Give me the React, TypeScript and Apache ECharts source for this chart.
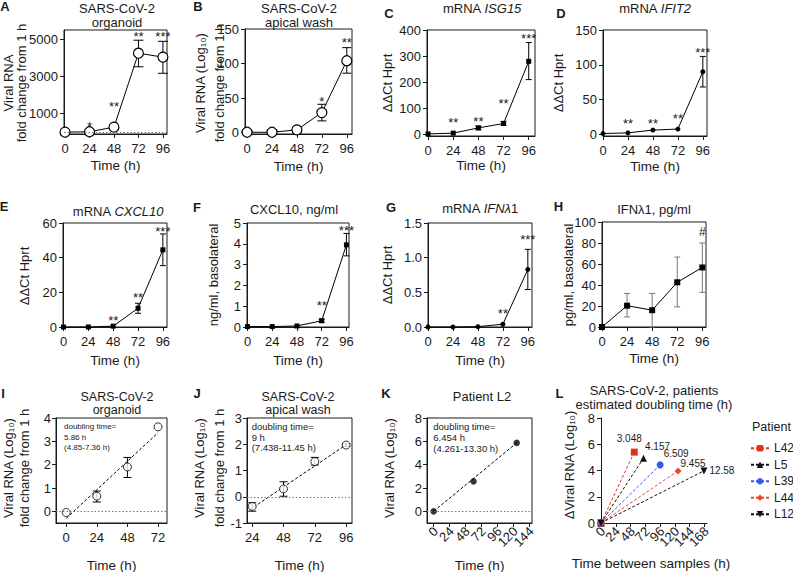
import React, { useEffect, useRef } from "react";
import * as echarts from "echarts";

// ---------------- data ----------------
const hours = [0, 24, 48, 72, 96];

// A  SARS-CoV-2 organoid (fold change from 1 h)
const aMean = [0, 20, 270, 4250, 4040];
const aLow = [0, 20, 240, 3520, 3170];
const aHigh = [0, 20, 300, 4950, 4890];
const aStars: [number, number, string][] = [[24, 280, "*"], [48, 1400, "**"], [72, 5160, "**"], [96, 5160, "***"]];

// B  SARS-CoV-2 apical wash
const bMean = [0.5, 0.5, 4, 29, 104];
const bLow = [0.5, 0.5, 4, 17, 86];
const bHigh = [0.5, 0.5, 4, 41, 123];
const bStars: [number, number, string][] = [[72, 45, "*"], [96, 131, "**"]];

// C  mRNA ISG15
const cMean = [2, 5, 25, 42, 280];
const cLow = [2, 5, 18, 35, 210];
const cHigh = [2, 5, 32, 50, 352];
const cStars: [number, number, string][] = [[24, 44, "**"], [48, 50, "**"], [72, 120, "**"], [96, 369, "***"]];

// D  mRNA IFIT2
const dMean = [1, 2, 6, 7.5, 90];
const dLow = [1, 2, 6, 7.5, 68];
const dHigh = [1, 2, 6, 7.5, 112];
const dStars: [number, number, string][] = [[24, 15, "**"], [48, 15, "**"], [72, 22, "**"], [96, 118, "***"]];

// E  mRNA CXCL10
const eMean = [0, 0, 0.5, 10.8, 44.5];
const eLow = [0, 0, 0.5, 7.9, 35.4];
const eHigh = [0, 0, 0.5, 13.7, 53.7];
const eStars: [number, number, string][] = [[48, 3.6, "**"], [72, 17.1, "**"], [96, 55.2, "***"]];

// F  CXCL10 ng/ml
const fMean = [0.02, 0.02, 0.05, 0.3, 3.95];
const fLow = [0.02, 0.02, 0.05, 0.22, 3.42];
const fHigh = [0.02, 0.02, 0.05, 0.38, 4.5];
const fStars: [number, number, string][] = [[72, 1.04, "**"], [96, 4.65, "***"]];

// G  mRNA IFNλ1
const gMean = [0, 0, 0.005, 0.04, 0.83];
const gLow = [0, 0, 0.005, 0.04, 0.54];
const gHigh = [0, 0, 0.005, 0.04, 1.12];
const gStars: [number, number, string][] = [[72, 0.19, "**"], [96, 1.26, "***"]];

// H  IFNλ1 pg/ml
const hMean = [0, 20.3, 16, 42.6, 56.7];
const hLow = [0, 9.6, 0, 19.2, 33];
const hHigh = [0, 32, 32, 66.6, 80];
const hMarks: [number, number, string][] = [[96, 90.8, "#"]];

// I  organoid log10
const iTime = [0, 24, 48, 72];
const iMean = [-0.05, 0.65, 1.9, 3.62];
const iLow = [-0.05, 0.4, 1.45, 3.62];
const iHigh = [-0.05, 0.87, 2.31, 3.62];
const iFit = [[0, -0.3], [72, 3.37]];

// J  apical wash log10
const jTime = [24, 48, 72, 96];
const jMean = [-0.37, 0.3, 1.34, 1.97];
const jLow = [-0.55, 0.02, 1.21, 1.92];
const jHigh = [-0.23, 0.57, 1.5, 2.02];
const jFit = [[22, -0.5], [96, 1.98]];

// K  Patient L2
const kTime = [0, 60, 125];
const kValue = [0, 2.57, 5.87];
const kFit = [[0, 0], [125, 5.87]];

// L  patients
const lPatients = ["L42", "L5", "L39", "L44", "L12"];
const lHours = [54, 69, 96, 125, 167];
const lDelta = [5.4, 4.94, 4.43, 3.97, 3.97];
const lDoubling = ["3.048", "4.157", "6.509", "9.455", "12.58"];

// tick values
const ticksHour = [0, 24, 48, 72, 96];
const ticksI = [0, 24, 48, 72];
const ticksJ = [24, 48, 72, 96];
const ticksK = [0, 24, 48, 72, 96, 120, 144];
const ticksL = [0, 24, 48, 72, 96, 120, 144, 168];
const yTicksA = [0, 1000, 3000, 5000];
const yLabelsA = [1000, 3000, 5000];
const yTicksB = [0, 50, 100, 150];
const yTicksC = [0, 100, 200, 300, 400];
const yTicksD = [0, 50, 100, 150];
const yTicksE = [0, 20, 40, 60];
const yTicksF = [0, 1, 2, 3, 4, 5];
const yTicksG = [0, 0.5, 1.0, 1.5];
const yTicksH = [0, 20, 40, 60, 80, 100];
const yTicksI = [0, 1, 2, 3, 4];
const yTicksJ = [-1, 0, 1, 2, 3];
const yTicksKL = [0, 2, 4, 6, 8];

// ---------------- styling / layout ----------------
const FONT = '"Liberation Sans", Arial, Helvetica, sans-serif';
const INK = "#1a1a1a";
const lColors = ["#e3311f", "#111111", "#3558f2", "#ee4a2c", "#111111"];
const lSymbols = ["rect", "triangle", "circle", "diamond", "triangle"];
const lRotate = [0, 0, 0, 0, 180];
const lSizes = [7, 7, 7, 7, 7];
const lOffsets = [[-5, -14], [14, -12], [16, -11], [15, -7], [18, 0]];

const grids = [
  { left: 64, top: 30, width: 103, height: 104 },
  { left: 245, top: 29, width: 107, height: 105 },
  { left: 427, top: 30, width: 108, height: 106 },
  { left: 603, top: 30, width: 104, height: 106 },
  { left: 63, top: 223, width: 104, height: 104 },
  { left: 247, top: 223, width: 102, height: 104 },
  { left: 428, top: 223, width: 104, height: 104 },
  { left: 602, top: 222, width: 104, height: 105 },
  { left: 56, top: 418, width: 111, height: 105 },
  { left: 247, top: 418, width: 105, height: 105 },
  { left: 427, top: 418, width: 105, height: 105 },
  { left: 601, top: 418, width: 106, height: 105 },
];
const boxed = [true, true, true, true, true, true, true, true, true, true, true, false];

const plain = (v: number) => String(v);

function mkX(i: number, min: number, max: number, ticks: number[], showLabels = true) {
  return {
    type: "value", gridIndex: i, min, max,
    axisLine: { show: true, onZero: false, lineStyle: { color: INK, width: 1 } },
    axisTick: { show: true, length: 4, customValues: ticks, lineStyle: { color: INK, width: 1 } },
    axisLabel: {
      show: showLabels, customValues: ticks, interval: 0, color: INK, fontSize: 13, fontFamily: FONT, margin: 8,
      showMinLabel: true, showMaxLabel: true, hideOverlap: false, formatter: plain,
    },
    splitLine: { show: false },
  };
}
function mkY(i: number, min: number, max: number, ticks: number[], labels?: number[], fmt?: (v: number) => string, margin = 6) {
  return {
    type: "value", gridIndex: i, min, max,
    axisLine: { show: true, onZero: false, lineStyle: { color: INK, width: 1 } },
    axisTick: { show: true, length: 4, customValues: ticks, lineStyle: { color: INK, width: 1 } },
    axisLabel: {
      customValues: labels || ticks, interval: 0, color: INK, fontSize: 13, fontFamily: FONT, margin,
      formatter: fmt || plain, showMinLabel: true, showMaxLabel: true,
    },
    splitLine: { show: false },
  };
}

// slanted (45°) tick labels placed through the axis scale
function slantedLabels(i: number, ticks: number[], yMin: number) {
  return {
    type: "custom", xAxisIndex: i, yAxisIndex: i, z: 6, silent: true, clip: false,
    data: ticks.map((t) => [t, yMin]),
    renderItem: (p: any, api: any) => {
      const c = api.coord([api.value(0), api.value(1)]);
      return {
        type: "text", x: c[0] + 2, y: c[1] + 6, rotation: Math.PI / 4,
        style: { text: String(ticks[p.dataIndex]), fill: INK, fontSize: 13, fontFamily: FONT, align: "right", verticalAlign: "middle" },
      };
    },
  };
}

function errorBars(i: number, xs: number[], lo: number[], hi: number[], cap: number, color = "#000") {
  return {
    type: "custom", xAxisIndex: i, yAxisIndex: i, z: 2, silent: true,
    data: xs.map((x, k) => [x, lo[k], hi[k]]),
    renderItem: (_p: any, api: any) => {
      const x = api.value(0);
      const l = api.value(1);
      const h = api.value(2);
      if (l === h) return { type: "group", children: [] };
      const a = api.coord([x, l]);
      const b = api.coord([x, h]);
      const w = cap / 2;
      const st = { stroke: color, lineWidth: 1 };
      return {
        type: "group",
        children: [
          { type: "line", shape: { x1: a[0], y1: a[1], x2: b[0], y2: b[1] }, style: st },
          { type: "line", shape: { x1: a[0] - w, y1: a[1], x2: a[0] + w, y2: a[1] }, style: st },
          { type: "line", shape: { x1: b[0] - w, y1: b[1], x2: b[0] + w, y2: b[1] }, style: st },
        ],
      };
    },
  };
}

function marks(i: number, items: [number, number, string][], size = 13) {
  return {
    type: "custom", xAxisIndex: i, yAxisIndex: i, z: 6, silent: true,
    data: items.map((s) => [s[0], s[1]]),
    renderItem: (p: any, api: any) => {
      const it = items[p.dataIndex];
      const c = api.coord([it[0], it[1]]);
      return {
        type: "text", x: c[0], y: c[1],
        style: { text: it[2], fill: INK, fontSize: size, fontFamily: FONT, align: "center", verticalAlign: "middle" },
      };
    },
  };
}

const zeroLine = {
  silent: true, symbol: ["none", "none"], label: { show: false },
  lineStyle: { type: [1.5, 2], color: "#777", width: 1 },
  emphasis: { disabled: true },
  data: [{ yAxis: 0 }],
};

function meanLine(i: number, xs: number[], ys: number[], symbol: string, size: number, fill: string, border: number, extra: any = {}) {
  return {
    type: "line", xAxisIndex: i, yAxisIndex: i, z: 3, clip: false, silent: true,
    data: xs.map((x, k) => [x, ys[k]]),
    symbol, symbolSize: size, showSymbol: true,
    itemStyle: { color: fill, borderColor: "#000", borderWidth: border },
    lineStyle: { color: "#000", width: 1 },
    emphasis: { disabled: true },
    ...extra,
  };
}

function fitLine(i: number, pts: number[][]) {
  return {
    type: "line", xAxisIndex: i, yAxisIndex: i, z: 2, clip: false, silent: true,
    data: pts, symbol: "none",
    lineStyle: { color: "#000", width: 1, type: [3, 2] },
    emphasis: { disabled: true },
  };
}

function txt(x: number, y: number, text: string, o: any = {}) {
  return {
    type: "text", x, y, rotation: o.rot || 0, silent: true,
    style: {
      text, fill: INK, fontFamily: FONT, fontSize: o.size || 13,
      fontWeight: o.bold ? "bold" : "normal",
      align: o.align || "center", verticalAlign: "middle",
      lineHeight: o.lh, rich: o.rich,
    },
  };
}
const R = Math.PI / 2;
const italic = { i: { fontStyle: "italic", fontFamily: FONT, fontSize: 13, fill: INK } };

function buildOption() {
  const xAxis = [
    mkX(0, -1, 100, ticksHour), mkX(1, -2, 101, ticksHour), mkX(2, -1, 102, ticksHour), mkX(3, 0, 100, ticksHour),
    mkX(4, -0.5, 100, ticksHour), mkX(5, -0.5, 98.5, ticksHour), mkX(6, 0, 100, ticksHour), mkX(7, 0, 99.5, ticksHour),
    mkX(8, -8, 79, ticksI), mkX(9, 20, 100.5, ticksJ), mkX(10, -10, 148, ticksK, false), mkX(11, 0, 172, ticksL, false),
  ];
  const yAxis = [
    mkY(0, -100, 5500, yTicksA, yLabelsA), mkY(1, -2, 150, yTicksB), mkY(2, -6, 400, yTicksC), mkY(3, -2.5, 150, yTicksD),
    mkY(4, 0, 60, yTicksE), mkY(5, 0, 5, yTicksF), mkY(6, 0, 1.5, yTicksG, yTicksG, (v: number) => v.toFixed(1)), mkY(7, 0, 100, yTicksH),
    mkY(8, -0.5, 4, yTicksI, yTicksI, undefined, 5), mkY(9, -1, 3, yTicksJ, yTicksJ, undefined, 5), mkY(10, -1, 8, yTicksKL, yTicksKL, undefined, 5), mkY(11, 0, 8, yTicksKL),
  ];
  const grid = grids.map((g, k) => ({
    ...g, containLabel: false, show: boxed[k], borderColor: INK, borderWidth: 1, backgroundColor: "transparent",
  }));

  const series: any[] = [
    errorBars(0, hours, aLow, aHigh, 10),
    meanLine(0, hours, aMean, "circle", 10, "#fff", 1.2, { markLine: zeroLine }),
    marks(0, aStars),
    errorBars(1, hours, bLow, bHigh, 9),
    meanLine(1, hours, bMean, "circle", 10, "#fff", 1.2),
    marks(1, bStars),
    errorBars(2, hours, cLow, cHigh, 6),
    meanLine(2, hours, cMean, "rect", 5, "#000", 0),
    marks(2, cStars),
    errorBars(3, hours, dLow, dHigh, 6),
    meanLine(3, hours, dMean, "circle", 5, "#000", 0),
    marks(3, dStars),
    errorBars(4, hours, eLow, eHigh, 6),
    meanLine(4, hours, eMean, "rect", 5, "#000", 0),
    marks(4, eStars),
    errorBars(5, hours, fLow, fHigh, 6),
    meanLine(5, hours, fMean, "rect", 5, "#000", 0),
    marks(5, fStars),
    errorBars(6, hours, gLow, gHigh, 6),
    meanLine(6, hours, gMean, "circle", 5, "#000", 0),
    marks(6, gStars),
    errorBars(7, hours, hLow, hHigh, 6, "#777"),
    meanLine(7, hours, hMean, "rect", 6, "#000", 0),
    marks(7, hMarks, 12),
    // I
    fitLine(8, iFit),
    errorBars(8, iTime, iLow, iHigh, 8),
    {
      type: "scatter", xAxisIndex: 8, yAxisIndex: 8, z: 4, clip: false, silent: true,
      data: iTime.map((t, k) => [t, iMean[k]]), symbol: "circle", symbolSize: 8,
      itemStyle: { color: "#fff", borderColor: "#000", borderWidth: 1 }, markLine: zeroLine,
    },
    // J
    fitLine(9, jFit),
    errorBars(9, jTime, jLow, jHigh, 8),
    {
      type: "scatter", xAxisIndex: 9, yAxisIndex: 9, z: 4, clip: false, silent: true,
      data: jTime.map((t, k) => [t, jMean[k]]), symbol: "circle", symbolSize: 8,
      itemStyle: { color: "#fff", borderColor: "#000", borderWidth: 1 }, markLine: zeroLine,
    },
    // K
    fitLine(10, kFit),
    {
      type: "scatter", xAxisIndex: 10, yAxisIndex: 10, z: 4, clip: false, silent: true,
      data: kTime.map((t, k) => [t, kValue[k]]), symbol: "circle", symbolSize: 6.5,
      itemStyle: { color: "#000" }, markLine: zeroLine,
    },
    slantedLabels(10, ticksK, -1),
    slantedLabels(11, ticksL, 0),
  ];

  lPatients.forEach((name, k) => {
    series.push({
      type: "line", name, xAxisIndex: 11, yAxisIndex: 11, z: 3 + k * 0.01, clip: false, silent: true,
      symbol: lSymbols[k], symbolSize: lSizes[k], symbolRotate: lRotate[k],
      itemStyle: { color: lColors[k] },
      lineStyle: { color: lColors[k], width: 1, type: [3, 2] },
      emphasis: { disabled: true },
      label: { show: false },
      data: [
        [0, 0],
        {
          value: [lHours[k], lDelta[k]],
          label: {
            show: true, formatter: lDoubling[k], position: "inside", offset: lOffsets[k],
            color: INK, fontSize: 10, fontFamily: FONT,
          },
        },
      ],
    });
  });

  const graphic = [
    // panel letters
    txt(5, 6, "A", { bold: true }), txt(198, 6, "B", { bold: true }), txt(389, 13, "C", { bold: true }), txt(561, 13, "D", { bold: true }),
    txt(4, 206, "E", { bold: true }), txt(197, 207, "F", { bold: true }), txt(391, 207, "G", { bold: true }), txt(558.5, 206, "H", { bold: true }),
    txt(3, 393, "I", { bold: true }), txt(197, 393, "J", { bold: true }), txt(386, 393, "K", { bold: true }), txt(559.5, 393, "L", { bold: true }),
    // titles
    txt(117, 15, "SARS-CoV-2\norganoid", { lh: 14 }),
    txt(299, 15, "SARS-CoV-2\napical wash", { lh: 14 }),
    txt(482, 8, "mRNA {i|ISG15}", { rich: italic }),
    txt(655, 8, "mRNA {i|IFIT2}", { rich: italic }),
    txt(118, 211, "mRNA {i|CXCL10}", { rich: italic }),
    txt(294, 209, "CXCL10, ng/ml"),
    txt(480, 208, "mRNA {i|IFNλ}1", { rich: italic }),
    txt(654, 209, "IFNλ1, pg/ml"),
    txt(117, 403, "SARS-CoV-2\norganoid", { lh: 13, size: 12.5 }),
    txt(298, 403, "SARS-CoV-2\napical wash", { lh: 13, size: 12.5 }),
    txt(482, 396, "Patient L2"),
    txt(654, 397, "SARS-CoV-2, patients\nestimated doubling time (h)", { lh: 14 }),
    // y-axis names
    txt(8, 83, "Viral RNA", { rot: R }), txt(21, 83, "fold change from 1 h", { rot: R }),
    txt(200, 83, "Viral RNA (Log₁₀)", { rot: R }), txt(219, 83, "fold change from 1 h", { rot: R }),
    txt(387.5, 83, "ΔΔCt Hprt", { rot: R }),
    txt(558.5, 83, "ΔΔCt Hprt", { rot: R }),
    txt(24, 276, "ΔΔCt Hprt", { rot: R }),
    txt(213, 275, "ng/ml, basolateral", { rot: R }),
    txt(387.5, 275, "ΔΔCt Hprt", { rot: R }),
    txt(568, 275, "pg/ml, basolateral", { rot: R }),
    txt(8, 468, "Viral RNA (Log₁₀)", { rot: R }), txt(24, 468, "fold change from 1 h", { rot: R }),
    txt(199, 468, "Viral RNA (Log₁₀)", { rot: R }), txt(219, 468, "fold change from 1 h", { rot: R }),
    txt(389, 468, "Viral RNA (Log₁₀)", { rot: R }),
    txt(569, 465, "ΔViral RNA (Log₁₀)", { rot: R }),
    // x-axis names
    txt(115.5, 165, "Time (h)", { size: 13.5 }), txt(298.5, 166, "Time (h)", { size: 13.5 }),
    txt(481, 165, "Time (h)", { size: 13.5 }), txt(655, 166, "Time (h)", { size: 13.5 }),
    txt(115, 360, "Time (h)", { size: 13.5 }), txt(298, 360, "Time (h)", { size: 13.5 }),
    txt(480, 360, "Time (h)", { size: 13.5 }), txt(654, 358, "Time (h)", { size: 13.5 }),
    txt(111.5, 565, "Time (h)", { size: 13.5 }), txt(299.5, 565, "Time (h)", { size: 13.5 }),
    txt(479.5, 565, "Time (h)", { size: 13.5 }), txt(651, 563, "Time between samples (h)", { size: 13.5 }),
    // doubling time notes
    txt(64, 437, "doubling time=\n5.86 h\n(4.85-7.36 h)", { size: 8, align: "left", lh: 10.2 }),
    txt(251.7, 437, "doubling time=\n9 h\n(7.438-11.45 h)", { size: 9.5, align: "left", lh: 10.3 }),
    txt(433.3, 437, "doubling time=\n6.454 h\n(4.261-13.30 h)", { size: 9.5, align: "left", lh: 11 }),
    // legend title
    txt(752, 427, "Patient", { align: "left", size: 12.5 }),
  ];

  return {
    animation: false,
    backgroundColor: "#fff",
    textStyle: { fontFamily: FONT },
    grid, xAxis, yAxis, series, graphic,
    legend: {
      data: lPatients, orient: "vertical", left: 750, top: 441.3, padding: 0,
      itemWidth: 18, itemHeight: 8, itemGap: 2.5, selectedMode: false,
      textStyle: { fontSize: 12, fontFamily: FONT, color: INK, lineHeight: 14 },
    },
  };
}

export default function App() {
  const ref = useRef<HTMLDivElement>(null);
  useEffect(() => {
    if (!ref.current) return;
    const chart = echarts.init(ref.current, undefined, { renderer: "svg" });
    chart.setOption(buildOption() as any);
    return () => chart.dispose();
  }, []);
  return <div ref={ref} style={{ position: "absolute", left: 0, top: 0, width: 793, height: 572 }} />;
}
